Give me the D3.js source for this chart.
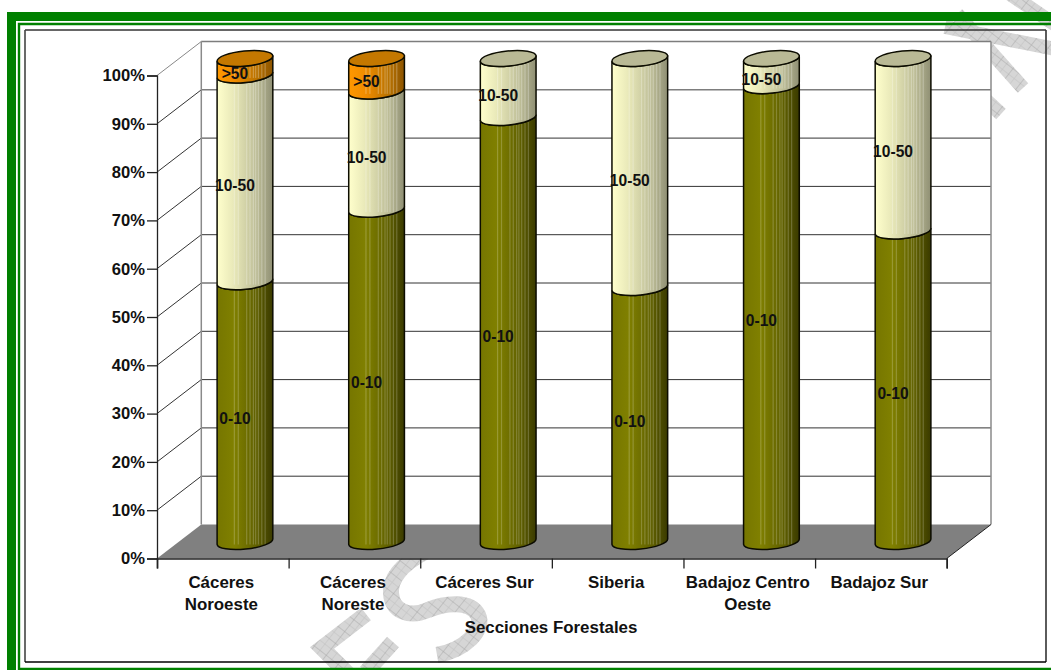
<!DOCTYPE html>
<html><head><meta charset="utf-8">
<script src="https://cdnjs.cloudflare.com/ajax/libs/d3/7.8.5/d3.min.js"></script>
<style>html,body{margin:0;padding:0;background:#fff;overflow:hidden}svg{display:block}
text{font-family:"Liberation Sans",Arial,sans-serif;font-weight:700;fill:#111}</style></head><body>
<script>
const categories=[["Cáceres","Noroeste"],["Cáceres","Noreste"],["Cáceres Sur"],["Siberia"],["Badajoz Centro","Oeste"],["Badajoz Sur"]];
const seriesNames=["0-10","10-50",">50"];
const values0to10=[53.8,68.8,87.8,52.6,94.4,64.3];
const values10to50=[42.8,24.5,12.2,47.4,5.6,35.7];
const valuesOver50=[3.4,6.7,0,0,0,0];
const yTicks=[0,10,20,30,40,50,60,70,80,90,100];
const axisTitle="Secciones Forestales";
const seriesStyle=[
 {stops:["#767600","#808000","#5f5f00","#3a3a00"],top:"#808000"},
 {stops:["#ffffcc","#e8e8b8","#bcbc96","#8f8f74"],top:"#b9b995"},
 {stops:["#ff9800","#f08c00","#b87200","#8c5400"],top:"#c47800"}];
const stripes=[.3,.37,.52,.58,.64,.68,.73,.79,.85];

const W=1051,H=670;
const svg=d3.select("body").append("svg").attr("width",W).attr("height",H);
const defs=svg.append("defs");
const depth={x:44.3,y:-34};
const x=d3.scaleLinear().domain([0,6]).range([157,946.7]);
const y=d3.scaleLinear().domain([0,100]).range([558.5,75.5]);
const rx=28,ry=7.6,tilt=-5.8;
const dx=rx*Math.cos(tilt*Math.PI/180),dy=rx*Math.sin(tilt*Math.PI/180);

// hatch for the watermark
const pat=defs.append("pattern").attr("id","hatch").attr("patternUnits","userSpaceOnUse")
 .attr("width",15).attr("height",15).attr("patternTransform","rotate(38)");
pat.append("rect").attr("width",15).attr("height",15).attr("fill","#d6d6d6");
pat.append("path").attr("d","M0 7.5H15M7.5 0V15").attr("stroke","#c4c4c4").attr("stroke-width",.6);
pat.append("path").attr("d","M0 0H15M0 0V15").attr("stroke","#a4a4a4").attr("stroke-width",.9);

const wm=svg.append("g").attr("fill","none").attr("stroke","url(#hatch)").attr("stroke-width",14);
["M957 14L1023 88","M945 27L1060 50","M1010 -6L1060 28","M975 90L1001 114"]
 .forEach(d=>wm.append("path").attr("d",d));
["M366 614L322 648L350 676","M393 642L366 672",
 "M437 655C465 650 485 630 478 615C470 600 445 603 428 610C410 618 392 612 391 593C390 580 400 565 425 552"]
 .forEach(d=>wm.append("path").attr("d",d).attr("stroke-width",16));

// frame
const frame=svg.append("g").attr("fill","none");
frame.append("path").attr("d","M1060 16.5H11.5V680").attr("stroke","#008000").attr("stroke-width",9);
frame.append("path").attr("d","M1060 24H19V669H1060").attr("stroke","#008000").attr("stroke-width",2.4);
frame.append("path").attr("d","M25 30H1046").attr("stroke","#333").attr("stroke-width",1.6);
frame.append("path").attr("d","M25 30V662").attr("stroke","#444").attr("stroke-width",1.6);
frame.append("path").attr("d","M1046 30V662").attr("stroke","#333").attr("stroke-width",1.6);
frame.append("path").attr("d","M25 662H1046").attr("stroke","#000").attr("stroke-width",1.4);

// walls
const x0=x(0),x6=x(6),yb=y(0),yt=y(100);
svg.append("polygon").attr("fill","#fff").attr("stroke","none").attr("points",[
 [x0,yb],[x0,yt],[x0+depth.x,yt+depth.y],[x6+depth.x,yt+depth.y],[x6+depth.x,yb+depth.y],[x6,yb]].join(" "));
const grid=svg.append("g");
yTicks.filter(t=>t>0).forEach(t=>{
 const c=t>=90?"#7d7d7d":"#333", w=t>=90?1.5:1;
 grid.append("path").attr("fill","none").attr("stroke",t==100?"#888":"#333").attr("stroke-width",1)
  .attr("d",`M${x0} ${y(t)}L${x0+depth.x} ${y(t)+depth.y}`);
 grid.append("path").attr("fill","none").attr("stroke",c).attr("stroke-width",w)
  .attr("d",`M${x0+depth.x} ${y(t)+depth.y}H${x6+depth.x}`);
});
svg.append("path").attr("fill","none").attr("stroke","#8a8a8a").attr("stroke-width",1.5)
 .attr("d",`M${x0+depth.x} ${yb+depth.y}V${yt+depth.y}M${x6+depth.x} ${yt+depth.y}V${yb+depth.y}`);
svg.append("polygon").attr("fill","#808080").attr("stroke","none").attr("points",[
 [x0,yb],[x0+depth.x,yb+depth.y],[x6+depth.x,yb+depth.y],[x6,yb]].join(" "));
svg.append("path").attr("fill","none").attr("stroke","#222").attr("stroke-width",1)
 .attr("d",`M${x6} ${yb}L${x6+depth.x} ${yb+depth.y}`);

// axes
const yAxis=d3.axisLeft(y).tickValues(yTicks).tickFormat(d=>d+"%").tickSize(10).tickPadding(2);
const gy=svg.append("g").attr("transform",`translate(${x0},0)`).call(yAxis);
const xAxis=d3.axisBottom(x).tickValues(d3.range(7)).tickFormat("").tickSize(10);
const gx=svg.append("g").attr("transform",`translate(0,${yb})`).call(xAxis);
[gy,gx].forEach(g=>{g.attr("font-size",null).attr("font-family",null);g.selectAll("path,line").attr("stroke","#222").attr("stroke-width",1.3);});
gx.select(".domain").attr("stroke-width",1.6);
gy.selectAll("text").style("font-size","16.6px").attr("fill","#111");

// gradients
seriesStyle.forEach((s,i)=>{
 const g=defs.append("linearGradient").attr("id","cyl"+i).attr("x1",0).attr("x2",1).attr("y1",0).attr("y2",0);
 [0,.3,.72,1].forEach((o,k)=>g.append("stop").attr("offset",o).attr("stop-color",s.stops[k]));
});

// cylinders
const series=[values0to10,values10to50,valuesOver50];
const cyl=svg.append("g");
const cBase=d=>x(d+.5)+depth.x/2;
const cy=v=>y(v)+depth.y/2;
categories.forEach((cat,i)=>{
 const cx=cBase(i);let acc=0;
 const g=cyl.append("g");
 series.forEach((vals,s)=>{
  const v=vals[i]; if(!v) return;
  const a=cy(acc),b=cy(acc+v);acc+=v;
  const d=`M${cx-dx} ${a-dy}A${rx} ${ry} ${tilt} 0 0 ${cx+dx} ${a+dy}V${b+dy}A${rx} ${ry} ${tilt} 0 1 ${cx-dx} ${b-dy}Z`;
  g.append("path").attr("d",d).attr("fill",`url(#cyl${s})`).attr("stroke","none");
  stripes.forEach(f=>g.append("rect").attr("x",cx-rx+f*2*rx).attr("y",b+3).attr("width",1.2).attr("height",Math.max(0,a-b))
    .attr("fill","#fff").attr("opacity",s==0?.2:.25));
  g.append("path").attr("d",d).attr("fill","none").attr("stroke","#0c0c00").attr("stroke-width",1.5);
 });
 const top=cy(acc),ls=series.map(v=>v[i]).filter(v=>v>0).length-1;
 g.append("ellipse").attr("cx",cx).attr("cy",top).attr("rx",rx).attr("ry",ry)
  .attr("transform",`rotate(${tilt} ${cx} ${top})`)
  .attr("fill",seriesStyle[ls].top).attr("stroke","#0c0c00").attr("stroke-width",1.5);
});

// data labels
const lab=svg.append("g").attr("text-anchor","middle").style("font-size","15.6px");
categories.forEach((cat,i)=>{
 let acc=0;
 series.forEach((vals,s)=>{
  const v=vals[i]; if(!v) return;
  lab.append("text").attr("x",cBase(i)-10).attr("y",y(acc+v/2)-4.3).text(seriesNames[s]);
  acc+=v;
 });
});

// category labels
const cl=svg.append("g").attr("text-anchor","middle").style("font-size","16.9px");
categories.forEach((lines,i)=>{
 lines.forEach((l,k)=>cl.append("text").attr("x",x(i+.5)-1.5).attr("y",588+k*22).text(l));
});
svg.append("text").attr("x",551).attr("y",632.5).attr("text-anchor","middle").style("font-size","16.9px").text(axisTitle);
</script></body></html>
